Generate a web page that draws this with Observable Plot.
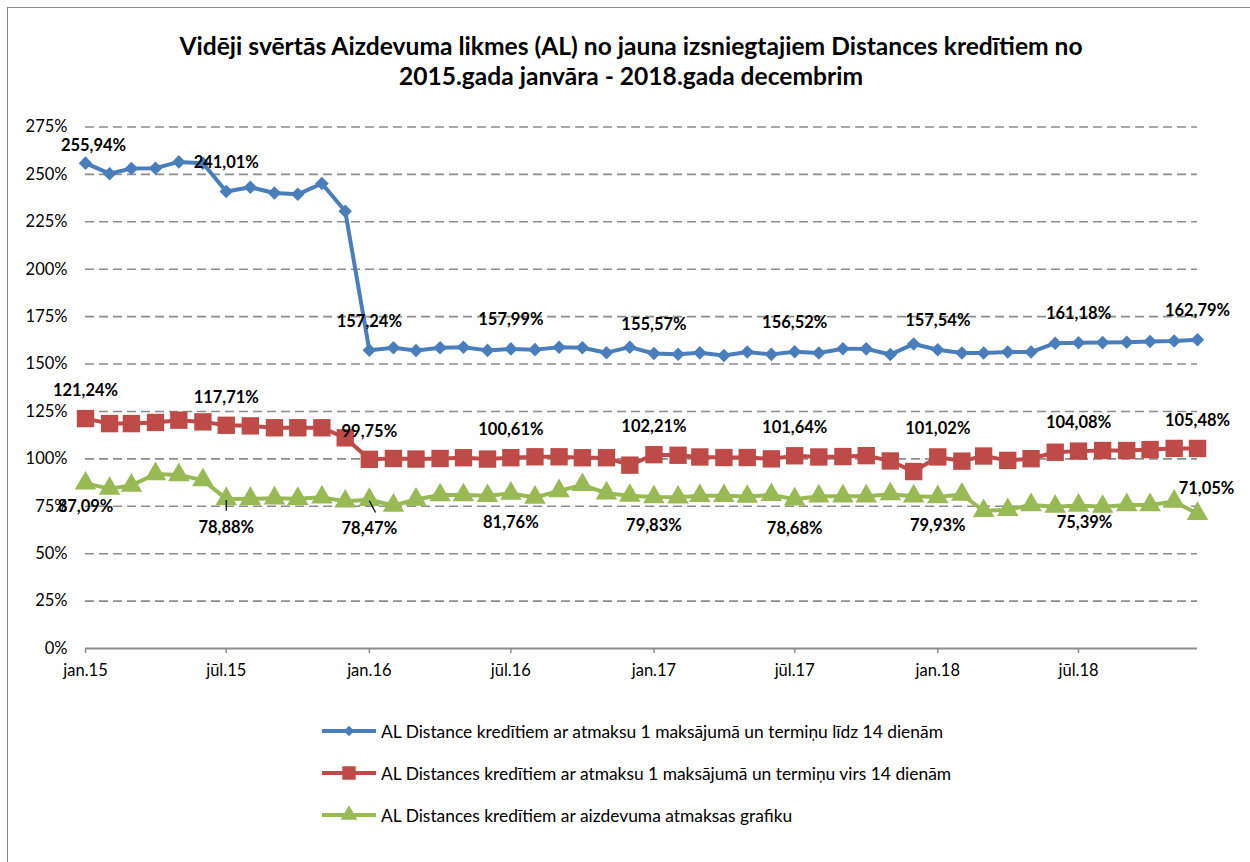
<!DOCTYPE html>
<html>
<head>
<meta charset="utf-8">
<script src="https://cdn.jsdelivr.net/npm/d3@7"></script>
<script src="https://cdn.jsdelivr.net/npm/@observablehq/plot@0.6"></script>
<style>
  body { margin: 0; background: #fff; font-family: Lato, "Open Sans", sans-serif; color: #000; }
  #frame { position: absolute; left: 7px; top: 7px; width: 1270px; height: 880px; border: 1.5px solid #8a8a8a; box-sizing: border-box; }
  #title { position: absolute; left: 0; width: 1262px; top: 31px; text-align: center; font-weight: bold; font-size: 24.6px; line-height: 30px; }
  #chart { position: absolute; left: 0; top: 100px; }
  #legend { position: absolute; left: 322px; top: 710px; }
  .item { display: flex; align-items: center; height: 42px; font-size: 17.4px; }
  .item svg { margin-right: 5px; }
</style>
</head>
<body>
<div id="frame"></div>
<div id="title">Vidēji svērtās Aizdevuma likmes (AL) no jauna izsniegtajiem Distances kredītiem no<br>2015.gada janvāra - 2018.gada decembrim</div>
<div id="chart"></div>
<div id="legend"></div>
<script>
// ---- data ----
const months = d3.utcMonth.range(new Date(Date.UTC(2015, 0, 1)), new Date(Date.UTC(2019, 0, 1)));
const seriesNames = [
  "AL Distance kredītiem ar atmaksu 1 maksājumā un termiņu līdz 14 dienām",
  "AL Distances kredītiem ar atmaksu 1 maksājumā un termiņu virs 14 dienām",
  "AL Distances kredītiem ar aizdevuma atmaksas grafiku"
];
const blue = [255.94, 250.4, 253.1, 253.3, 256.6, 255.9, 241.01, 243.2, 240.2, 239.5, 245.2, 230.6,
  157.24, 158.6, 157.1, 158.6, 158.9, 157.2, 157.99, 157.6, 158.9, 158.6, 156.0, 158.9,
  155.57, 155.2, 155.9, 154.5, 156.3, 155.1, 156.52, 155.8, 158.1, 158.0, 155.0, 160.6,
  157.54, 155.8, 155.8, 156.3, 156.3, 161.0, 161.18, 161.3, 161.5, 161.9, 162.2, 162.79];
const red = [121.24, 118.6, 118.6, 119.2, 120.4, 119.5, 117.71, 117.4, 116.4, 116.4, 116.4, 111.1,
  99.75, 100.2, 99.9, 100.2, 100.6, 99.9, 100.61, 101.1, 101.1, 100.6, 100.6, 96.7,
  102.21, 101.9, 101.0, 100.7, 100.7, 100.0, 101.64, 101.0, 101.2, 101.7, 98.9, 93.3,
  101.02, 98.8, 101.5, 99.2, 100.1, 103.5, 104.08, 104.4, 104.4, 104.9, 105.5, 105.48];
const green = [87.09, 84.3, 86.0, 92.0, 91.5, 88.8, 78.88, 79.0, 79.2, 79.0, 79.7, 77.6,
  78.47, 75.4, 78.6, 80.9, 80.9, 80.5, 81.76, 79.6, 83.1, 86.3, 81.9, 80.6,
  79.83, 79.7, 80.5, 80.5, 80.1, 81.0, 78.68, 80.3, 80.3, 80.3, 81.4, 80.3,
  79.93, 81.2, 72.6, 73.1, 75.7, 74.8, 75.39, 74.8, 75.7, 75.7, 77.5, 71.05];
const labelIdx = [0, 6, 12, 18, 24, 30, 36, 42, 47];
const yTicks = [0, 25, 50, 75, 100, 125, 150, 175, 200, 225, 250, 275];
const xTicks = d3.utcMonth.every(6).range(new Date(Date.UTC(2015, 0, 1)), new Date(Date.UTC(2018, 11, 1)));
const monthNames = ["jan.", "feb.", "mar.", "apr.", "mai.", "jūn.", "jūl.", "aug.", "sep.", "okt.", "nov.", "dec."];

// ---- styles ----
const colors = ["#4a7ebb", "#be4b48", "#98b954"];
const symbols = ["diamond2", "square", "triangle"];
const radii = [6.1, 9.8, 8];

const rows = months.map((date, i) => ({date, i, blue: blue[i], red: red[i], green: green[i]}));
const fmt = v => v.toFixed(2).replace(".", ",") + "%";
const lab = (key) => labelIdx.map(i => ({date: months[i], i, v: rows[i][key]}));

const fontFamily = "Lato, 'Open Sans', sans-serif";
const labelStyle = {fontWeight: "bold", fontSize: 16.5, fill: "#000", fontFamily};

const blueL = lab("blue"), redL = lab("red"), greenL = lab("green");

const marks = [
  Plot.gridY(yTicks.filter(d => d > 0), {stroke: "#8c8c8c", strokeOpacity: 1, strokeWidth: 1.6, strokeDasharray: "9,5"}),
  Plot.ruleY([0], {stroke: "#8c8c8c", strokeWidth: 2}),
  Plot.ruleX(xTicks, {x: d => d, y1: 0, y2: 0, insetBottom: -5, stroke: "#8c8c8c", strokeWidth: 1.5}),
  Plot.axisY({ticks: yTicks, tickFormat: d => d + "%", tickSize: 0, tickPadding: 18, fontSize: 16.5, label: null, fontFamily}),
  Plot.axisX({ticks: xTicks, tickFormat: d => monthNames[d.getUTCMonth()] + String(d.getUTCFullYear() % 100).padStart(2, "0"), tickSize: 0, tickPadding: 16, fontSize: 16.5, label: null, fontFamily}),
];
["blue", "red", "green"].forEach((key, s) => {
  marks.push(Plot.line(rows, {x: "date", y: key, stroke: colors[s], strokeWidth: 4, strokeLinejoin: "round"}));
  marks.push(Plot.dot(rows, {x: "date", y: key, symbol: symbols[s], r: radii[s], fill: colors[s], stroke: "none"}));
});
// leader lines for two green labels
marks.push(Plot.link(greenL.filter(d => d.i === 6), {x1: "date", x2: "date", y1: d => d.v - 0.6, y2: d => d.v - 6.3, stroke: "#000", strokeWidth: 1.2}));
marks.push(Plot.link(greenL.filter(d => d.i === 12), {x1: "date", x2: d => d3.utcDay.offset(d.date, 8), y1: d => d.v - 0.6, y2: d => d.v - 6.8, stroke: "#000", strokeWidth: 1.2}));
// data labels
marks.push(Plot.text(blueL.filter(d => d.i === 0), {x: "date", y: "v", text: d => fmt(d.v), dy: -17, dx: 8, ...labelStyle}));
marks.push(Plot.text(blueL.filter(d => d.i !== 0), {x: "date", y: "v", text: d => fmt(d.v), dy: -29, ...labelStyle}));
marks.push(Plot.text(redL, {x: "date", y: "v", text: d => fmt(d.v), dy: -28, ...labelStyle}));
marks.push(Plot.text(greenL.filter(d => d.i === 0), {x: "date", y: "v", text: d => fmt(d.v), dy: 23, ...labelStyle}));
marks.push(Plot.text(greenL.filter(d => d.i === 42), {x: "date", y: "v", text: d => fmt(d.v), dy: 17, dx: 6, ...labelStyle}));
marks.push(Plot.text(greenL.filter(d => ![0, 42, 47].includes(d.i)), {x: "date", y: "v", text: d => fmt(d.v), dy: 29, ...labelStyle}));
marks.push(Plot.text(greenL.filter(d => d.i === 47), {x: "date", y: "v", text: d => fmt(d.v), dy: -25, dx: 9, ...labelStyle}));

const chart = Plot.plot({
  width: 1250,
  height: 590,
  marginLeft: 85,
  marginRight: 53,
  marginTop: 26.5,
  marginBottom: 42,
  style: {fontFamily, background: "transparent", color: "#000", overflow: "visible"},
  x: {type: "utc", domain: [months[0], months[47]]},
  y: {domain: [0, 275]},
  marks
});
document.getElementById("chart").append(chart);

// legend
const legend = document.getElementById("legend");
seriesNames.forEach((name, s) => {
  const item = document.createElement("div");
  item.className = "item";
  const svg = d3.create("svg").attr("width", 54).attr("height", 22);
  svg.append("line").attr("x1", 0).attr("x2", 54).attr("y1", 11).attr("y2", 11).attr("stroke", colors[s]).attr("stroke-width", 4);
  const symType = [d3.symbolDiamond2, d3.symbolSquare, d3.symbolTriangle][s];
  svg.append("path").attr("transform", "translate(27,11)")
    .attr("d", d3.symbol(symType, radii[s] * radii[s] * Math.PI * 0.6)()).attr("fill", colors[s]);
  item.append(svg.node());
  const span = document.createElement("span");
  span.textContent = name;
  item.append(span);
  legend.append(item);
});
</script>
</body>
</html>
